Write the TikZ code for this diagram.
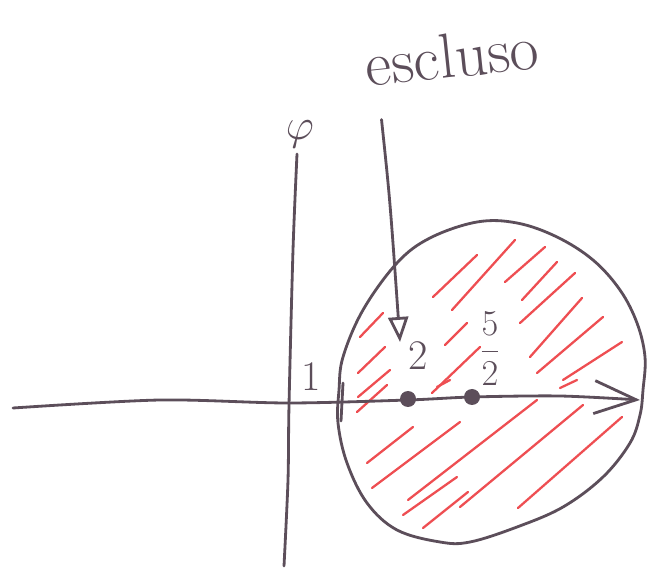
\documentclass[tikz,border=0pt]{standalone}
\usepackage{amsmath}
\usepackage{tikz}
\usetikzlibrary{arrows.meta}
\definecolor{pen}{RGB}{92,78,90}
\definecolor{hatch}{RGB}{238,78,82}
\tikzstyle{penline} = [draw=pen, line width=1.6pt, line cap=round, line join=round]
\tikzstyle{hatchline} = [draw=hatch, line width=1.3pt, line cap=round]
\tikzstyle{dot} = [circle, fill=pen, inner sep=0pt, minimum size=0.32cm]
\tikzstyle{handtext} = [text=pen, inner sep=0pt, font=\fontsize{24}{28}\selectfont]

\begin{document}
\begin{tikzpicture}[x=0.02cm, y=-0.02cm]
    \useasboundingbox (0,0) rectangle (662,573);

    % hatching inside the disc
    \foreach \xa/\ya/\xb/\yb in {433/297/477/255, 452/310/515/240, 505/282/545/247,
        522/300/557/262, 520/323/575/273, 530/357/582/298, 537/373/603/317,
        563/380/622/342, 360/337/383/313, 358/373/385/347, 445/345/467/323,
        432/393/480/347, 358/397/390/370, 357/412/387/385, 367/463/413/427,
        372/488/460/422, 408/500/537/400, 403/515/457/477, 423/528/468/492,
        460/507/583/405, 518/508/622/417, 437/387/450/380, 560/388/577/380}
        \draw [hatchline] (\xa,\ya) -- (\xb,\yb);

    % disc boundary
    \draw [penline] plot [smooth cycle, tension=0.6] coordinates {
        (477,222) (517,223) (557,237) (593,260) (620,290) (637,323) (645,357)
        (643,390) (640,415) (630,443) (603,477) (563,507) (517,527) (470,542)
        (440,542) (397,530) (367,503) (347,463) (338,423) (339,390) (343,357)
        (363,310) (397,263) (430,238)};

    % axes
    \node (phi) [handtext, font=\fontsize{36}{40}\selectfont] at (300,134) {$\varphi$};
    \draw [penline] plot [smooth] coordinates {(297,154) (293,250) (289,405) (288,480) (284,566)};
    \draw [penline, -{Straight Barb[length=0.84cm, width=0.66cm]}]
        plot [smooth] coordinates {(13,408) (160,400) (288,403) (408,400) (472,397) (560,396) (640,400)};
    \draw [penline] (343,383) -- (341,421);

    % points and labels
    \node (p2) [dot] at (408,399) {};
    \node (p52) [dot] at (472,397) {};
    \node (l1) [handtext] at (311,377) {1};
    \node (l2) [handtext] at (418,356) {2};
    \node (l52) [handtext, font=\fontsize{20}{24}\selectfont] at (490,349) {$\dfrac{5}{2}$};

    % excluded point
    \node (esc) [handtext, font=\fontsize{36}{40}\selectfont, rotate=6] at (452,56) {escluso};
    \coordinate (excl) at (400,342);
    \draw [penline, -{Triangle[open, length=0.5cm, width=0.4cm]}]
        (esc.south west) ++(14,32) coordinate (escfoot) .. controls (390,200) .. (excl);
\end{tikzpicture}
\end{document}
